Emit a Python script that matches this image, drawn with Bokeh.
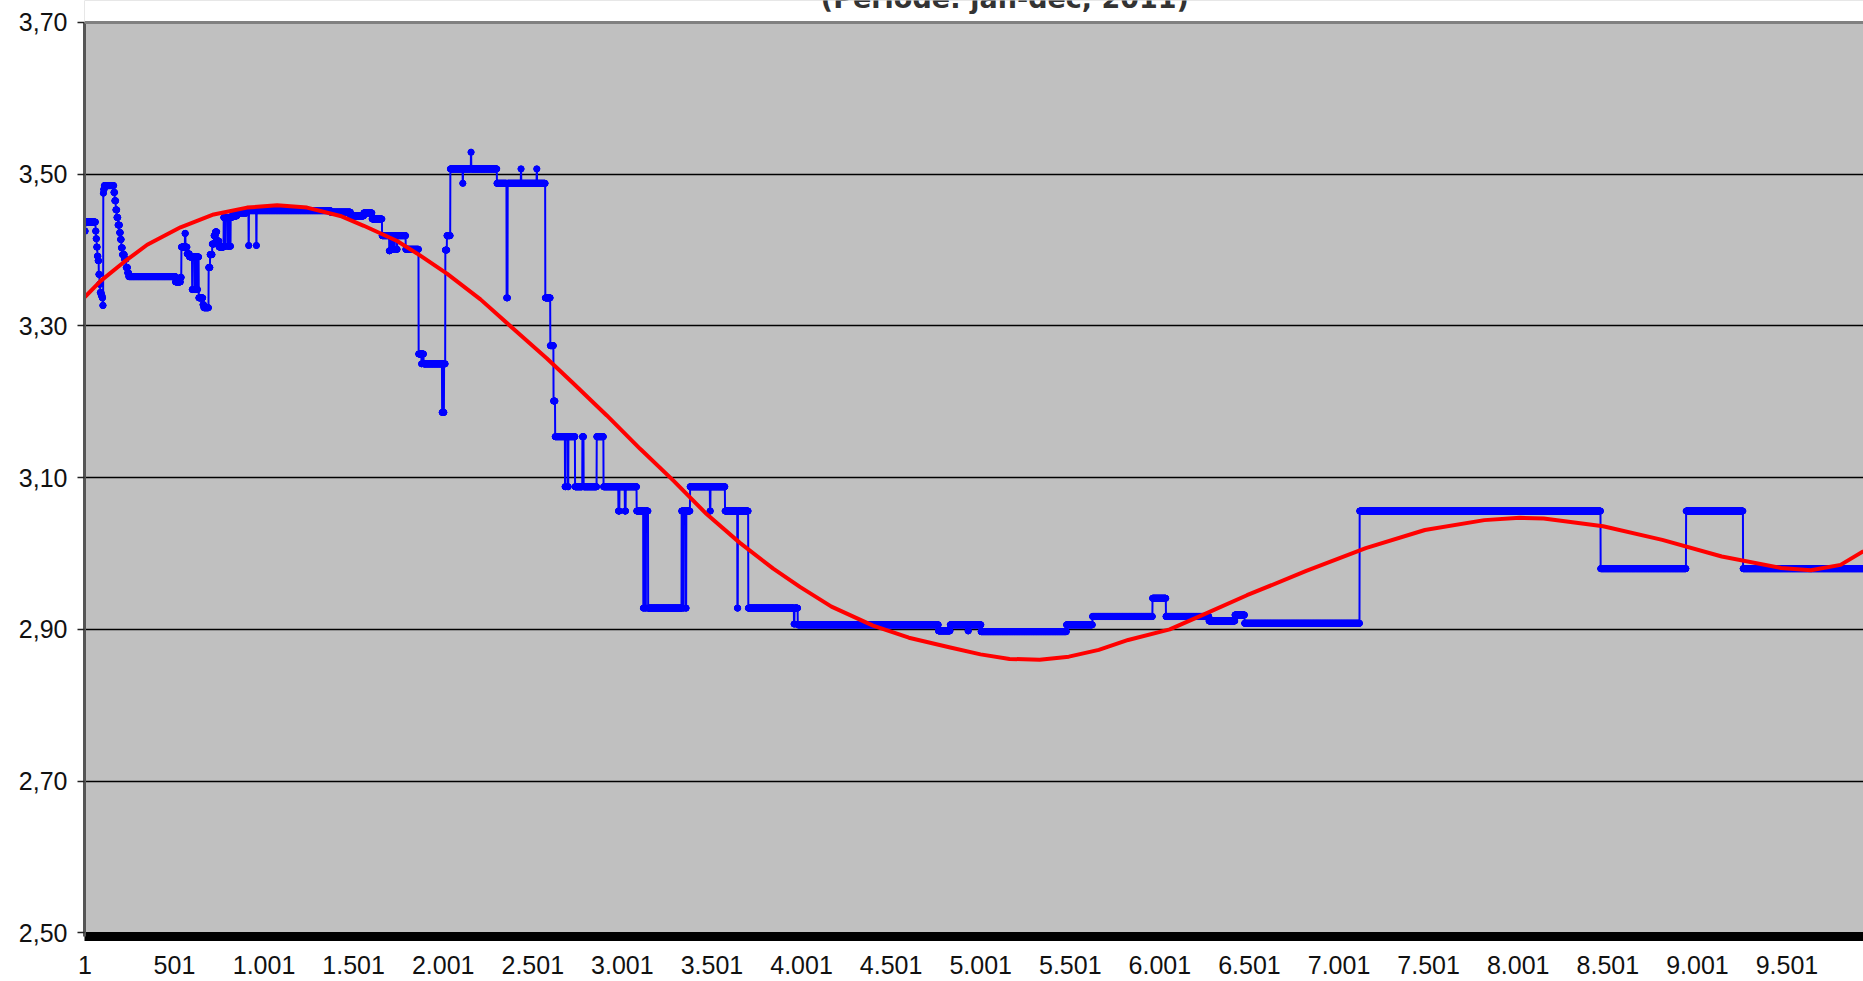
import numpy as np
from bokeh.plotting import figure
from bokeh.models import Range1d, FixedTicker, Span, Label, BoxAnnotation
from bokeh.embed import file_html
from bokeh.resources import INLINE

# ---------------- data ----------------
# blue series: step data, each run starts at run_start (point number) with value run_value
run_start = [1, 4, 61, 64, 67, 71, 75, 79, 83, 87, 93, 98, 101, 104, 106, 110, 163, 168, 174, 180,
             186, 195, 200, 205, 211, 222, 232, 240, 246, 507, 535, 540, 560, 563, 572, 585, 600,
             603, 615, 618, 628, 631, 637, 660, 665, 692, 700, 712, 722, 730, 738, 750, 776, 785,
             788, 800, 803, 812, 815, 822, 850, 906, 915, 917, 958, 960, 1372, 1484, 1558, 1604,
             1660, 1700, 1703, 1712, 1716, 1725, 1728, 1740, 1745, 1792, 1864, 1880, 1882, 1892,
             1995, 1998, 2001, 2006, 2013, 2022, 2041, 2110, 2112, 2156, 2158, 2301, 2355, 2357,
             2359, 2361, 2435, 2437, 2523, 2525, 2571, 2599, 2617, 2626, 2681, 2684, 2697, 2700,
             2737, 2778, 2785, 2858, 2896, 2979, 2985, 3015, 3020, 3081, 3118, 3121, 3130, 3133,
             3145, 3332, 3340, 3343, 3355, 3358, 3379, 3490, 3493, 3574, 3643, 3646, 3704, 3959,
             3962, 3980, 4765, 4831, 4930, 4933, 5003, 5480, 5625, 5960, 6035, 6275, 6420, 6474,
             7116, 8461, 8938, 9256]
run_value = [3.425, 3.437, 3.425, 3.415, 3.404, 3.392, 3.386, 3.368, 3.355, 3.344, 3.340, 3.337,
             3.327, 3.475, 3.480, 3.485, 3.476, 3.465, 3.453, 3.443, 3.433, 3.423, 3.414, 3.403,
             3.394, 3.388, 3.377, 3.370, 3.365, 3.358, 3.364, 3.404, 3.422, 3.404, 3.395, 3.391,
             3.348, 3.391, 3.348, 3.391, 3.348, 3.391, 3.337, 3.328, 3.324, 3.377, 3.394, 3.408,
             3.419, 3.424, 3.412, 3.404, 3.443, 3.405, 3.443, 3.405, 3.443, 3.405, 3.443, 3.445,
             3.449, 3.452, 3.406, 3.452, 3.406, 3.452, 3.450, 3.445, 3.449, 3.441, 3.419, 3.399,
             3.419, 3.401, 3.419, 3.401, 3.419, 3.401, 3.419, 3.401, 3.263, 3.250, 3.263, 3.250,
             3.186, 3.250, 3.186, 3.250, 3.400, 3.419, 3.507, 3.488, 3.507, 3.529, 3.507, 3.488,
             3.337, 3.488, 3.337, 3.488, 3.507, 3.488, 3.507, 3.488, 3.337, 3.274, 3.201, 3.154,
             3.088, 3.154, 3.088, 3.154, 3.088, 3.154, 3.088, 3.154, 3.088, 3.056, 3.088, 3.056,
             3.088, 3.056, 2.928, 3.056, 2.928, 3.056, 2.928, 3.056, 2.928, 3.056, 2.928, 3.056,
             3.088, 3.056, 3.088, 3.056, 2.928, 3.056, 2.928, 2.907, 2.928, 2.906, 2.898, 2.906,
             2.898, 2.906, 2.897, 2.906, 2.917, 2.941, 2.917, 2.911, 2.919, 2.908, 3.056, 2.980,
             3.056, 2.980]
n_points = 9930

# red trend line, read at these point numbers
trend_x = [1, 88, 218, 349, 535, 720, 906, 1074, 1241, 1427, 1558, 1744, 1865, 2022, 2209, 2394,
           2580, 2728, 2914, 3100, 3286, 3471, 3657, 3843, 3992, 4168, 4400, 4600, 4831, 5000,
           5162, 5330, 5493, 5660, 5824, 6056, 6250, 6487, 6818, 7150, 7480, 7812, 8010, 8143,
           8475, 8805, 9137, 9468, 9634, 9800, 9928]
trend_y = [3.338, 3.359, 3.384, 3.407, 3.430, 3.447, 3.456, 3.459, 3.456, 3.445, 3.432, 3.412,
           3.394, 3.369, 3.335, 3.296, 3.257, 3.224, 3.182, 3.138, 3.096, 3.052, 3.014, 2.980,
           2.956, 2.930, 2.905, 2.889, 2.876, 2.867, 2.861, 2.860, 2.864, 2.873, 2.886, 2.900,
           2.920, 2.945, 2.977, 3.007, 3.031, 3.044, 3.047, 3.046, 3.036, 3.018, 2.996, 2.981,
           2.978, 2.985, 3.003]

x_ticks = [1, 501, 1001, 1501, 2001, 2501, 3001, 3501, 4001, 4501, 5001, 5501, 6001, 6501,
           7001, 7501, 8001, 8501, 9001, 9501]
x_tick_labels = ["1", "501", "1.001", "1.501", "2.001", "2.501", "3.001", "3.501", "4.001",
                 "4.501", "5.001", "5.501", "6.001", "6.501", "7.001", "7.501", "8.001",
                 "8.501", "9.001", "9.501"]
y_ticks = [2.5, 2.7, 2.9, 3.1, 3.3, 3.5, 3.7]
y_tick_labels = ["2,50", "2,70", "2,90", "3,10", "3,30", "3,50", "3,70"]
title_text = "(Periode: jan-dec, 2011)"

# expand the runs into one value per point
starts = np.array(run_start)
ends = np.append(starts[1:], n_points + 1)
point_no = np.arange(1, n_points + 1)
point_val = np.repeat(np.array(run_value), ends - starts)

# ---------------- figure ----------------
PX_PER_UNIT = 758.57
y_top = 3.70 + 22 / PX_PER_UNIT          # frame reaches the top of the page
p = figure(width=1863, height=981, output_backend="svg", toolbar_location=None,
           x_range=Range1d(-0.95, 9928), y_range=Range1d(2.4951, y_top),
           min_border_left=84, min_border_right=0, min_border_top=0, min_border_bottom=45)
p.background_fill_color = "#C0C0C0"
p.border_fill_color = "white"
p.outline_line_color = None

# white strip above the plot area (the chart area ends at 3,70)
p.add_layout(BoxAnnotation(bottom=3.70, fill_color="white", fill_alpha=1.0, line_color=None))

# y axis
p.yaxis.ticker = FixedTicker(ticks=y_ticks)
p.yaxis.bounds = (2.4951, 3.70)
p.yaxis.major_label_overrides = {t: l for t, l in zip(y_ticks, y_tick_labels)}
p.yaxis.axis_line_color = "#555555"
p.yaxis.axis_line_width = 3
p.yaxis.major_tick_out = 7
p.yaxis.major_tick_in = 0
p.yaxis.major_tick_line_color = "#222222"
p.yaxis.major_tick_line_width = 1.5
p.yaxis.minor_tick_line_color = None
p.yaxis.major_label_text_font = "Liberation Sans"
p.yaxis.major_label_text_font_size = "25px"
p.yaxis.major_label_text_color = "#111111"
p.yaxis.major_label_standoff = 10

# x axis
p.xaxis.ticker = FixedTicker(ticks=x_ticks)
p.xaxis.major_label_overrides = {t: l for t, l in zip(x_ticks, x_tick_labels)}
p.xaxis.axis_line_color = "black"
p.xaxis.axis_line_width = 9
p.xaxis.major_tick_line_color = None
p.xaxis.major_tick_out = 0
p.xaxis.major_tick_in = 0
p.xaxis.minor_tick_line_color = None
p.xaxis.major_label_text_font = "Liberation Sans"
p.xaxis.major_label_text_font_size = "25px"
p.xaxis.major_label_text_color = "#111111"
p.xaxis.major_label_standoff = 19

# grid
p.xgrid.visible = False
p.ygrid.ticker = FixedTicker(ticks=[2.7, 2.9, 3.1, 3.3, 3.5])
p.ygrid.grid_line_color = "black"
p.ygrid.grid_line_width = 1.3

p.add_layout(Span(location=3.70, dimension="width", line_color="#808080", line_width=3))

# series
p.line(point_no, point_val, line_color="#0000FF", line_width=2)
p.scatter(point_no, point_val, size=6, fill_color="#0000FF", line_color="#0000FF")
p.line(trend_x, trend_y, line_color="#FF0000", line_width=4, line_join="round")

# title (cut off at the top of the page, as in the picture)
p.add_layout(Label(x=5136, y=y_top + 2.5 / PX_PER_UNIT, text=title_text, text_align="center",
                   text_baseline="alphabetic", text_font="DejaVu Sans",
                   text_font_style="bold", text_font_size="27px", text_color="#333333"))

open("out.html", "w").write(file_html(p, INLINE))
